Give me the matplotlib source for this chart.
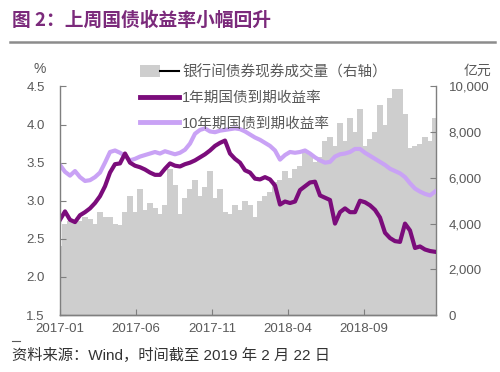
import matplotlib
matplotlib.use("Agg")
import matplotlib.pyplot as plt
from matplotlib.patches import Patch
from matplotlib.lines import Line2D
from matplotlib.legend_handler import HandlerTuple
import pandas as pd

plt.rcParams['font.family'] = ['Liberation Sans', 'Noto Sans CJK SC', 'DejaVu Sans']

# ---------------- data (10-day sampling) ----------------
dates = pd.date_range('2017-01-01', periods=76, freq='10D')

yield_10y = [3.47, 3.38, 3.33, 3.39, 3.31, 3.26, 3.27, 3.31, 3.37, 3.50,
             3.64, 3.66, 3.63, 3.59, 3.53, 3.55, 3.58, 3.60, 3.62, 3.64,
             3.62, 3.65, 3.63, 3.61, 3.63, 3.67, 3.75, 3.88, 3.93, 3.95,
             3.91, 3.90, 3.92, 3.93, 3.94, 3.95, 3.94, 3.91, 3.87, 3.83,
             3.80, 3.76, 3.72, 3.66, 3.54, 3.60, 3.64, 3.63, 3.64, 3.66,
             3.62, 3.57, 3.53, 3.50, 3.51, 3.58, 3.61, 3.62, 3.64, 3.68,
             3.68, 3.63, 3.59, 3.55, 3.51, 3.47, 3.42, 3.39, 3.36, 3.31,
             3.23, 3.16, 3.12, 3.09, 3.07, 3.12]

yield_1y = [2.75, 2.86, 2.75, 2.72, 2.81, 2.85, 2.90, 2.97, 3.06, 3.19,
            3.37, 3.48, 3.49, 3.62, 3.50, 3.46, 3.44, 3.41, 3.37, 3.34,
            3.34, 3.42, 3.49, 3.46, 3.45, 3.48, 3.50, 3.53, 3.57, 3.61,
            3.66, 3.72, 3.76, 3.79, 3.62, 3.55, 3.50, 3.40, 3.37, 3.29,
            3.28, 3.31, 3.28, 3.20, 2.95, 2.99, 2.97, 2.99, 3.14, 3.19,
            3.24, 3.25, 3.07, 3.04, 3.01, 2.70, 2.85, 2.90, 2.85, 2.85,
            3.00, 2.98, 2.94, 2.88, 2.78, 2.58, 2.51, 2.47, 2.46, 2.70,
            2.61, 2.38, 2.40, 2.36, 2.34, 2.33]

volume = [3000, 4000, 4100, 4150, 4100, 4300, 4200, 4000, 4500, 4300,
          4300, 4000, 3950, 4500, 5200, 4500, 5500, 4600, 4900, 4700,
          4400, 4800, 6400, 5700, 4400, 5100, 5500, 5900, 5200, 5600,
          6300, 5100, 5500, 4500, 4400, 4800, 4600, 5000, 4800, 4300,
          5000, 5200, 5400, 5800, 5900, 6300, 6000, 6400, 6500, 7200,
          7000, 6700, 6900, 7600, 7800, 7400, 8400, 7600, 8600, 8000,
          9000, 7400, 7700, 8000, 9200, 8300, 9500, 9900, 9900, 8800,
          7300, 7400, 7500, 7800, 7600, 8600]

xtick_labels = ['2017-01', '2017-06', '2017-11', '2018-04', '2018-09']
left_ticks = [1.5, 2.0, 2.5, 3.0, 3.5, 4.0, 4.5]
right_ticks = [0, 2000, 4000, 6000, 8000, 10000]

label_vol = '银行间债券现券成交量（右轴）'
label_1y = '1年期国债到期收益率'
label_10y = '10年期国债到期收益率'
title = '图 2：上周国债收益率小幅回升'
source = '资料来源：Wind，时间截至 2019 年 2 月 22 日'

# ---------------- styles ----------------
c_1y = '#7B0C7B'
c_10y = '#C9A2F5'
c_vol = '#CECECE'
c_text = '#595959'
c_spine = '#7F7F7F'

fig = plt.figure(figsize=(5.0, 3.72), dpi=100)
ax = fig.add_axes([0.12, 0.1532, 0.752, 0.6143])
ax2 = ax.twinx()

ax2.bar(dates, volume, width=11, color=c_vol, linewidth=0, align='center')
ax2.set_ylim(0, 10000)
ax2.set_yticks(right_ticks)
ax2.set_yticklabels([f'{v:,}' for v in right_ticks])

ax.plot(dates, yield_10y, color=c_10y, lw=3.0, solid_joinstyle='round')
ax.plot(dates, yield_1y, color=c_1y, lw=3.0, solid_joinstyle='round')
ax.set_ylim(1.5, 4.5)
ax.set_yticks(left_ticks)
ax.set_yticklabels([f'{v:.1f}' for v in left_ticks])

ax.set_zorder(ax2.get_zorder() + 1)
ax.patch.set_visible(False)

ax.set_xlim(pd.Timestamp('2017-01-01'), pd.Timestamp('2019-01-23'))
ax.set_xticks([pd.Timestamp(s + '-01') for s in xtick_labels])
ax.set_xticklabels(xtick_labels)

for a in (ax, ax2):
    for s in a.spines.values():
        s.set_color(c_spine)
        s.set_linewidth(1.0)
    a.spines['top'].set_visible(False)
    a.tick_params(direction='in', length=4, color=c_spine, labelcolor=c_text, labelsize=9.5)
ax.tick_params(axis='y', pad=11)
ax.tick_params(axis='x', pad=6)
ax2.tick_params(axis='y', pad=9)
ax2.spines['left'].set_visible(False)
ax.spines['right'].set_visible(False)

# unit labels
fig.text(40 / 500, 1 - 69 / 372, '%', ha='center', va='center', fontsize=10, color=c_text)
fig.text(477 / 500, 1 - 71 / 372, '亿元', ha='center', va='center', fontsize=10,
         color=c_text, family=['Noto Sans CJK SC'])

# legend
h_vol = (Patch(facecolor=c_vol, edgecolor='none'), Line2D([], [], color='black', lw=1.5))
h_1y = Line2D([], [], color=c_1y, lw=3.5)
h_10y = Line2D([], [], color=c_10y, lw=3.5)
leg = fig.legend([h_vol, h_1y, h_10y], [label_vol, label_1y, label_10y],
                 handler_map={tuple: HandlerTuple(ndivide=None)},
                 loc='upper left', bbox_to_anchor=(140 / 500, 1 - 65 / 372),
                 frameon=False, fontsize=10.5, handlelength=2.7, handleheight=0.9,
                 handletextpad=0.2, labelspacing=0.8, borderaxespad=0, borderpad=0)
for t in leg.get_texts():
    t.set_color(c_text)
    t.set_family(['Liberation Sans', 'Noto Sans CJK SC'])

# title and rule
fig.text(12 / 500, 1 - 20 / 372, title, ha='left', va='center', fontsize=13.5,
         color='#7B2A7B', fontweight='bold', family=['Noto Sans CJK SC'])
fig.add_artist(Line2D([10 / 500, 495 / 500], [1 - 42 / 372, 1 - 42 / 372],
                      color='#8C8C8C', lw=1.8))

# source
fig.add_artist(Line2D([12 / 500, 20 / 500], [1 - 341 / 372, 1 - 341 / 372], color='#595959', lw=0.8))
fig.text(12 / 500, 1 - 355 / 372, source, ha='left', va='center', fontsize=11,
         color='#333333', family=['Liberation Sans', 'Noto Sans CJK SC'])

fig.savefig('out.png', dpi=100)
